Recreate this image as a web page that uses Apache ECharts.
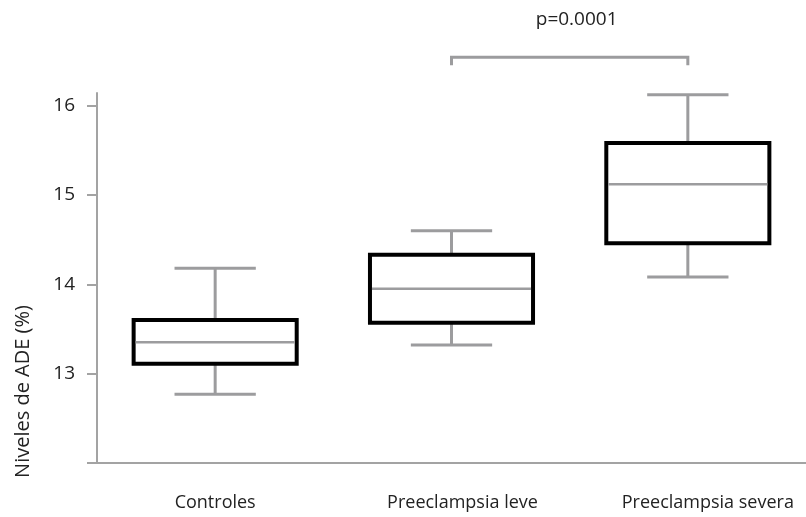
<!DOCTYPE html>
<html>
<head lang="es">
    <meta charset="UTF-8">
    <title>Niveles de ADE</title>
    <style>
        html, body { margin: 0; padding: 0; background: #fff; }
        #main { width: 806px; height: 517px; }
    </style>
</head>
<body>
<div id="main"></div>
<script src="https://cdn.jsdelivr.net/npm/echarts@6/dist/echarts.min.js"></script>
<script>
    // datos
    var categories = ['Controles', 'Preeclampsia leve', 'Preeclampsia severa'];
    var lowWhisker = [12.77, 13.32, 14.08];
    var q1 = [13.11, 13.57, 14.46];
    var median = [13.35, 13.95, 15.12];
    var q3 = [13.60, 14.33, 15.58];
    var highWhisker = [14.18, 14.60, 16.12];
    var yTicks = [12, 13, 14, 15, 16];
    var yLabels = [13, 14, 15, 16];

    // corchete de significancia
    var bracketFrom = 1, bracketTo = 2;
    var bracketTop = 16.54, bracketFoot = 16.45, pTextY = 16.96;
    var pText = 'p=0.0001';

    var gray = '#9c9c9e';
    var font = '"Open Sans", sans-serif';

    var boxData = categories.map(function (c, i) {
        return [i, lowWhisker[i], q1[i], median[i], q3[i], highWhisker[i]];
    });

    // las etiquetas del original no estan centradas del todo
    var labelShift = [0, 22, 40];
    var xData = categories.map(function (c, i) {
        return { value: c, textStyle: { padding: [0, 0, 0, labelShift[i]] } };
    });

    function renderBox(params, api) {
        var i = api.value(0);
        var band = api.size([1, 0])[0];
        var half = band * 0.345;
        var cap = band * 0.172;
        var x = api.coord([i, 0])[0];
        var yLow = api.coord([i, api.value(1)])[1];
        var yQ1 = api.coord([i, api.value(2)])[1];
        var yMed = api.coord([i, api.value(3)])[1];
        var yQ3 = api.coord([i, api.value(4)])[1];
        var yHigh = api.coord([i, api.value(5)])[1];
        var lineStyle = { stroke: gray, lineWidth: 3 };
        return {
            type: 'group',
            children: [
                { type: 'line', shape: { x1: x, y1: yQ3, x2: x, y2: yHigh }, style: lineStyle },
                { type: 'line', shape: { x1: x - cap, y1: yHigh, x2: x + cap, y2: yHigh }, style: lineStyle },
                { type: 'line', shape: { x1: x, y1: yQ1, x2: x, y2: yLow }, style: lineStyle },
                { type: 'line', shape: { x1: x - cap, y1: yLow, x2: x + cap, y2: yLow }, style: lineStyle },
                {
                    type: 'rect',
                    shape: { x: x - half, y: yQ3, width: half * 2, height: yQ1 - yQ3 },
                    style: { fill: '#fff', stroke: '#000', lineWidth: 4 }
                },
                { type: 'line', shape: { x1: x - half + 2, y1: yMed, x2: x + half - 2, y2: yMed }, style: { stroke: gray, lineWidth: 2.5 } }
            ]
        };
    }

    function renderBracket(params, api) {
        var xa = api.coord([api.value(0), 0])[0];
        var xb = api.coord([api.value(1), 0])[0];
        var yTop = api.coord([0, api.value(2)])[1];
        var yFoot = api.coord([0, api.value(3)])[1];
        var yText = api.coord([0, api.value(4)])[1];
        return {
            type: 'group',
            children: [
                {
                    type: 'polyline',
                    shape: { points: [[xa, yFoot], [xa, yTop], [xb, yTop], [xb, yFoot]] },
                    style: { stroke: gray, lineWidth: 3, fill: null }
                },
                {
                    type: 'text',
                    x: (xa + xb) / 2 + 7, y: yText,
                    style: { text: pText, fill: '#222', font: '19px ' + font, align: 'center', verticalAlign: 'middle' }
                }
            ]
        };
    }

    var myChart = echarts.init(document.getElementById('main'));
    var option = {
        animation: false,
        grid: { left: 97, top: 93, width: 714, bottom: 54 },
        xAxis: {
            type: 'category',
            data: xData,
            axisLine: { lineStyle: { color: '#a3a3a3', width: 2 } },
            axisTick: { show: false },
            axisLabel: { margin: 31, color: '#222', fontSize: 18, fontFamily: font }
        },
        yAxis: {
            type: 'value',
            min: 12,
            max: 16.14,
            interval: 1,
            name: 'Niveles de ADE (%)',
            nameLocation: 'middle',
            nameGap: 64,
            nameTextStyle: { color: '#222', fontSize: 20, fontFamily: font, padding: [0, 227, 0, 0] },
            axisLine: { show: true, lineStyle: { color: '#a3a3a3', width: 2 } },
            axisTick: { show: true, length: 10, customValues: yTicks, lineStyle: { color: '#a3a3a3', width: 2 } },
            axisLabel: { customValues: yLabels, margin: 22, color: '#222', fontSize: 19, fontFamily: font },
            splitLine: { show: false }
        },
        series: [
            {
                type: 'custom',
                renderItem: renderBox,
                data: boxData,
                encode: { x: 0, y: [1, 2, 3, 4, 5] },
                clip: false
            },
            {
                type: 'custom',
                renderItem: renderBracket,
                data: [[bracketFrom, bracketTo, bracketTop, bracketFoot, pTextY]],
                encode: { x: [0, 1], y: [2, 3, 4] },
                clip: false
            }
        ]
    };
    myChart.setOption(option);
</script>
</body>
</html>
